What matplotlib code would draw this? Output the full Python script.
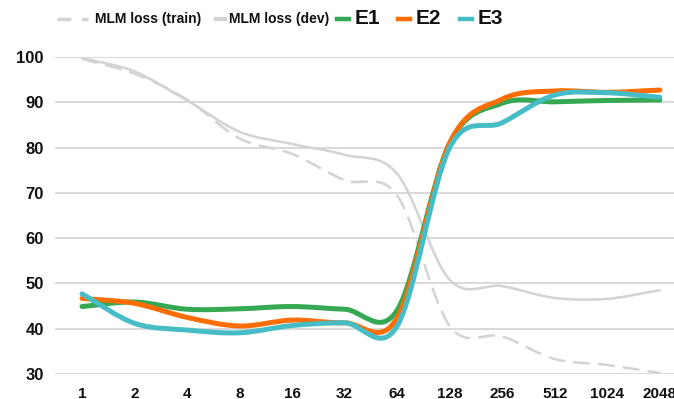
import matplotlib.pyplot as plt
from matplotlib.path import Path
from matplotlib.patches import PathPatch
from matplotlib.lines import Line2D

plt.rcParams['font.family'] = ['Liberation Sans', 'DejaVu Sans']

sizes = ["1", "2", "4", "8", "16", "32", "64", "128", "256", "512", "1024", "2048"]
mlm_train = [99.6, 96.3, 90.6, 82.0, 78.6, 72.8, 69.4, 40.6, 38.3, 33.3, 32.0, 30.2]
mlm_dev = [99.8, 96.8, 90.4, 83.5, 80.8, 78.4, 74.2, 50.8, 49.4, 46.8, 46.6, 48.5]
e1 = [44.9, 45.9, 44.3, 44.4, 44.9, 44.3, 44.1, 81.0, 89.8, 90.1, 90.4, 90.5]
e2 = [46.7, 45.6, 42.5, 40.6, 41.9, 41.3, 42.4, 81.0, 90.7, 92.5, 92.2, 92.7]
e3 = [47.7, 41.2, 39.7, 39.1, 40.7, 41.3, 40.6, 80.0, 85.5, 91.6, 92.1, 91.1]

GREEN = "#34a853"
ORANGE = "#ff6d01"
TEAL = "#46bdc6"
GREY = "#d3d3d3"


def smooth_path(ys):
    # catmull-rom through the points, as cubic bezier segments
    n = len(ys)
    xs = list(range(n))
    m = []
    for i in range(n):
        if i == 0:
            m.append(ys[1] - ys[0])
        elif i == n - 1:
            m.append(ys[-1] - ys[-2])
        else:
            m.append((ys[i + 1] - ys[i - 1]) / 2)
    verts = [(xs[0], ys[0])]
    codes = [Path.MOVETO]
    for i in range(n - 1):
        verts += [(xs[i] + 1 / 3, ys[i] + m[i] / 3),
                  (xs[i + 1] - 1 / 3, ys[i + 1] - m[i + 1] / 3),
                  (xs[i + 1], ys[i + 1])]
        codes += [Path.CURVE4] * 3
    return Path(verts, codes)


fig = plt.figure(figsize=(6.74, 3.99), dpi=100)
ax = fig.add_axes([55 / 674, 25 / 399, 619 / 674, 317 / 399])

series = [
    (mlm_train, GREY, 1.8, (0, (6, 4))),
    (mlm_dev, GREY, 1.8, "solid"),
    (e1, GREEN, 3.6, "solid"),
    (e2, ORANGE, 3.6, "solid"),
    (e3, TEAL, 3.6, "solid"),
]
for z, (vals, col, lw, ls) in enumerate(series):
    ax.add_patch(PathPatch(smooth_path(vals), facecolor="none", edgecolor=col,
                           lw=lw, linestyle=ls, capstyle="round", zorder=3 + z))

ax.set_xlim(-0.514, 11.27)
ax.set_ylim(30, 100)
ax.set_xticks(range(len(sizes)))
ax.set_xticklabels(sizes)
ax.set_yticks(range(30, 101, 10))
ax.grid(axis="y", color="#cfcfcf", lw=1.1)
ax.set_axisbelow(True)
for s in ax.spines.values():
    s.set_visible(False)
ax.tick_params(length=0)
ax.tick_params(axis="y", pad=8, labelsize=12)
ax.tick_params(axis="x", pad=9, labelsize=11)
for lab in ax.get_xticklabels() + ax.get_yticklabels():
    lab.set_fontweight("bold")
    lab.set_color("#111111")

# legend along the top
ly = 1 - 19 / 399


def fx(px):
    return px / 674


fig.add_artist(Line2D([fx(57), fx(88)], [ly, ly], transform=fig.transFigure,
                      color=GREY, lw=2.5, linestyle=(0, (4, 3))))
fig.text(fx(95), ly, "MLM loss (train)", fontsize=10, fontweight="bold",
         va="center", ha="left", color="#111111")
fig.add_artist(Line2D([fx(216), fx(225)], [ly, ly], transform=fig.transFigure,
                      color=GREY, lw=3))
fig.text(fx(229), ly, "MLM loss (dev)", fontsize=10, fontweight="bold",
         va="center", ha="left", color="#111111")
for x0, name, col in [(337, "E1", GREEN), (398, "E2", ORANGE), (460, "E3", TEAL)]:
    fig.add_artist(Line2D([fx(x0), fx(x0 + 12)], [ly, ly], transform=fig.transFigure,
                          color=col, lw=3.2))
    fig.text(fx(x0 + 18), ly, name, fontsize=15, fontweight="bold",
             va="center", ha="left", color="#111111")

fig.savefig("out.png", dpi=100)
